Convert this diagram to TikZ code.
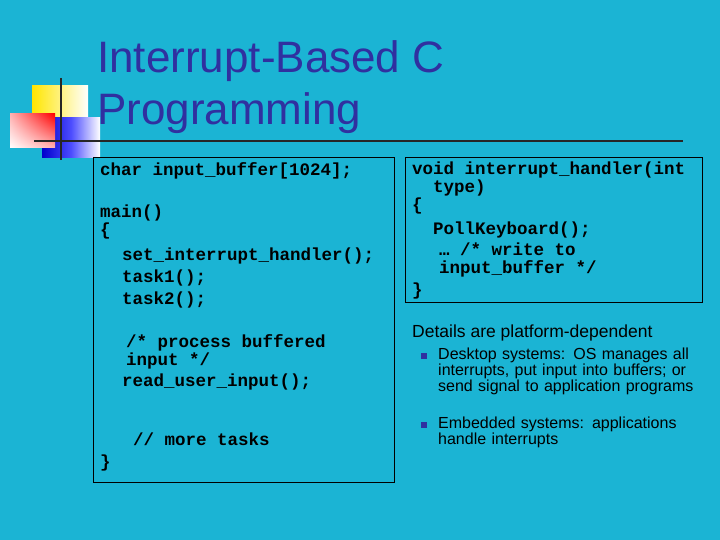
\documentclass[tikz,border=0pt]{standalone}
\usepackage{fontspec}
\setmainfont{Liberation Sans}
\setmonofont{Liberation Mono}
\usetikzlibrary{shadings}
\begin{document}
\begin{tikzpicture}[x=1pt,y=-1pt,
  code/.style={anchor=north west,inner sep=0pt,font=\ttfamily\bfseries\fontsize{17.5}{18}\selectfont,align=left},
  bl/.style={anchor=north west,inner sep=0pt,font=\fontsize{16}{16}\selectfont,align=left,text width=262pt}]
\definecolor{bg}{HTML}{1BB4D4}
\definecolor{ttl}{HTML}{3030A0}
\fill[bg] (0,0) rectangle (720,540);
\useasboundingbox (0,0) rectangle (720,540);
% logo
\shade[left color=yellow!80!orange,right color=white] (32,86) rectangle (88,145);
\shade[left color=blue!80!black,right color=white,middle color=blue!70] (42,118) rectangle (100,158);
\shade[lower left=white,upper right=red,upper left=red!30,lower right=red!30] (10,114) rectangle (55,148);
\draw[line width=2.5pt,black!85] (61,78) -- (61,160);
\draw[line width=1.8pt,black!85] (34,141) -- (683,141);
\node[anchor=north west,inner sep=0pt,text=ttl,font=\fontsize{44}{52}\selectfont,align=left] (t) at (97,40) {Interrupt-Based C\\Programming};
% boxes
\draw[black] (93,157) rectangle (394,482);
\draw[black] (405,157) rectangle (702,302);
\node[code] (c1) at (100,162) {char input\_buffer[1024];};
\node[code] (c2) at (100,205) {main()\\\{};
\node[code,font=\ttfamily\bfseries\fontsize{17.5}{22}\selectfont] (c3) at (122,248) {set\_interrupt\_handler();\\task1();\\task2();};
\node[code] (c4) at (126,334) {/* process buffered\\input */};
\node[code] (c5) at (122,374) {read\_user\_input();};
\node[code] (c6) at (133,433) {// more tasks};
\node[code] (c7) at (100,455) {\}};
\node[code] (r1) at (412,162) {void interrupt\_handler(int\\\ \ type)\\\{};
\node[code] (r2) at (433,222) {Poll\-Keyboard();};
\node[code] (r3) at (439,243) {… /* write to\\input\_buffer */};
\node[code] (r4) at (412,283) {\}};
\node[anchor=north west,inner sep=0pt,font=\fontsize{17.5}{19}\selectfont] (d) at (412,325) {Details are platform-dependent};
\fill[ttl] (421,353) rectangle (427,359);
\fill[ttl] (421,422) rectangle (427,428);
\node[bl] (b1) at (438,348) {\raggedright Desktop systems: OS manages all interrupts, put input into buffers; or send signal to application programs};
\node[bl] (b2) at (438,417) {\raggedright Embedded systems: applications handle interrupts};
\end{tikzpicture}
\end{document}
